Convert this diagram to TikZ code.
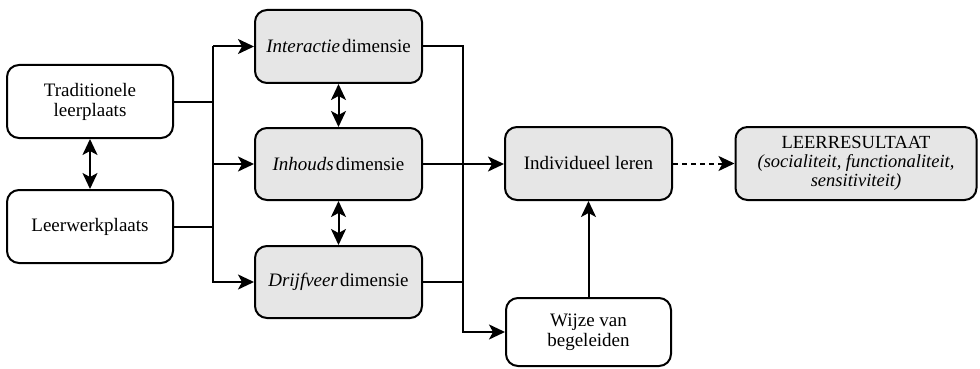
\documentclass[tikz,border=0pt]{standalone}
\usepackage{fontspec}
\setmainfont{Liberation Serif}
\usetikzlibrary{arrows.meta}
\definecolor{boxgray}{HTML}{E6E6E6}
\begin{document}
\begin{tikzpicture}[x=1pt,y=-1pt,
  box/.style={draw, line width=2pt, rounded corners=12pt, align=center,
    font=\fontsize{19}{20}\selectfont, inner sep=0pt},
  gbox/.style={box, fill=boxgray},
  conn/.style={line width=2pt},
  arr/.style={conn, -{Stealth[length=16pt,width=15pt,inset=4pt]}},
  darr/.style={conn, {Stealth[length=16pt,width=15pt,inset=4pt]}-{Stealth[length=16pt,width=15pt,inset=4pt]}}]
\useasboundingbox (0,0) rectangle (980,369);

\node[box, minimum width=166pt, minimum height=73pt] (trad) at (90,101.5) {Traditionele\\leerplaats};
\node[box, minimum width=166pt, minimum height=73pt] (leer) at (90,226.5) {Leerwerkplaats};

\node[gbox, minimum width=167pt, minimum height=73pt] (inter) at (338.5,46.5) {\textit{Interactie}\kern2pt dimensie};
\node[gbox, minimum width=167pt, minimum height=72pt] (inhoud) at (338.5,164) {\textit{Inhouds}\kern2pt dimensie};
\node[gbox, minimum width=167pt, minimum height=72pt] (drijf) at (338.5,282) {\textit{Drijfveer}\kern2pt dimensie};

\node[gbox, minimum width=167pt, minimum height=73pt] (indiv) at (588.5,163.5) {Individueel leren};
\node[gbox, minimum width=241pt, minimum height=73pt, font=\fontsize{18.5}{19}\selectfont] (result) at (856,163.5)
  {LEERRESULTAAT\\\textit{(socialiteit, functionaliteit,}\\\textit{sensitiviteit)}};
\node[box, minimum width=165pt, minimum height=68pt] (wijze) at (588.5,332) {Wijze van\\begeleiden};

\coordinate (jl) at (213,0);
\coordinate (jr) at (463,0);

% left side
\draw[darr] (trad.south) -- (leer.north);
\draw[conn] (trad.east) -- (trad.east -| jl);
\draw[conn] (leer.east) -- (leer.east -| jl);
\draw[arr] (inter.west -| jl) -- (inter.west);
\draw[arr] (inhoud.west -| jl) -- (inhoud.west);
\draw[arr] (inter.west -| jl) -- (drijf.west -| jl) -- (drijf.west);

% dimension double arrows
\draw[darr] (inter.south) -- (inhoud.north);
\draw[darr] (inhoud.south) -- (drijf.north);

% right side
\draw[arr] (inter.east) -| (wijze.west -| jr) -- (wijze.west);
\draw[conn] (drijf.east) -- (drijf.east -| jr);
\draw[arr] (inhoud.east) -- (inhoud.east -| indiv.west);
\draw[arr] (wijze.north) -- (indiv.south);
\draw[arr, dash pattern=on 5pt off 4pt] (indiv.east) -- (result.west);
\end{tikzpicture}
\end{document}
